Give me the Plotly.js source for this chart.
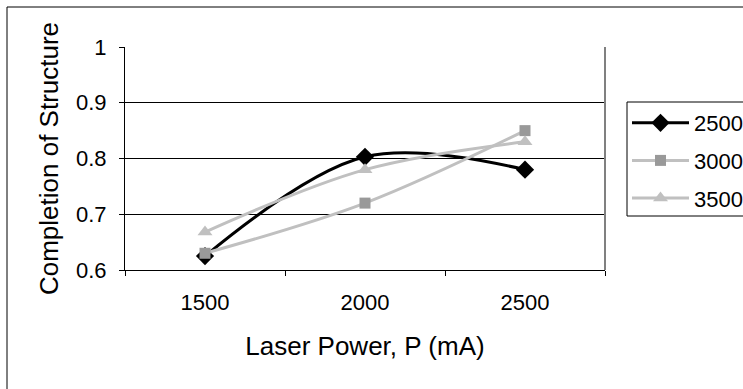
<!DOCTYPE html>
<html>
<head>
<meta charset="utf-8">
<script src="https://cdn.plot.ly/plotly-3.0.1.min.js"></script>
<style>
  html, body { margin: 0; padding: 0; background: #fff; }
  #chart { width: 743px; height: 389px; }
</style>
</head>
<body>
<div id="chart"></div>
<script>
// Data
var categories = ['1500', '2000', '2500'];
var seriesNames = ['2500', '3000', '3500'];
var values2500 = [0.625, 0.803, 0.780];
var values3000 = [0.630, 0.720, 0.850];
var values3500 = [0.668, 0.780, 0.830];
var yTickVals = [0.6, 0.7, 0.8, 0.9, 1];
var yTickText = ['0.6', '0.7', '0.8', '0.9', '1'];

var FONT = 'Liberation Sans, Arial, sans-serif';

function mk(name, vals, lineColor, markerColor, symbol, msize, group) {
  return {
    type: 'scatter', mode: 'lines+markers', name: name,
    x: categories, y: vals, legendgroup: group,
    line: { color: lineColor, width: 3, shape: 'spline', smoothing: 1 },
    marker: { color: markerColor, symbol: symbol, size: msize, line: { width: 0 } }
  };
}

var traces = [
  mk(seriesNames[0], values2500, '#000000', '#000000', 'diamond', 14, 'a'),
  mk(seriesNames[1], values3000, '#c0c0c0', '#999999', 'square', 11, 'b'),
  mk(seriesNames[2], values3500, '#c0c0c0', '#c0c0c0', 'triangle-up', 13, 'c')
];

var L = 125, R = 605, T = 47, B = 270, W = 743, H = 389;
function px(x) { return (x - L) / (R - L); }
function py(y) { return (B - y) / (B - T); }

var layout = {
  width: W, height: H,
  margin: { l: L, r: W - R, t: T, b: H - B, pad: 0, autoexpand: false },
  paper_bgcolor: '#ffffff', plot_bgcolor: '#ffffff',
  font: { family: FONT, size: 22, color: '#000000' },
  showlegend: true,
  legend: {
    x: px(627), y: py(102), xanchor: 'left', yanchor: 'top',
    bgcolor: 'rgba(0,0,0,0)', borderwidth: 0,
    font: { family: FONT, size: 22, color: '#000' },
    traceorder: 'grouped', tracegroupgap: 6, itemwidth: 57
  },
  xaxis: {
    type: 'category', categoryorder: 'array', categoryarray: categories,
    range: [-0.5, 2.5], fixedrange: true, automargin: false,
    showline: true, linecolor: '#000', linewidth: 1,
    ticks: 'outside', tickson: 'boundaries', ticklen: 5, tickcolor: '#000', tickwidth: 1,
    showgrid: false, zeroline: false,
    tickfont: { family: FONT, size: 22, color: '#000' },
    ticklabelstandoff: 13,
    title: { text: 'Laser Power, P (mA)', font: { family: FONT, size: 26, color: '#000' }, standoff: 22 }
  },
  yaxis: {
    range: [0.6, 1], fixedrange: true, automargin: false,
    tickvals: yTickVals, ticktext: yTickText,
    showline: true, linecolor: '#000', linewidth: 1,
    ticks: 'outside', ticklen: 5, tickcolor: '#000', tickwidth: 1,
    showgrid: true, gridcolor: '#000', gridwidth: 1, zeroline: false,
    tickfont: { family: FONT, size: 22, color: '#000' },
    ticklabelstandoff: 8,
    title: { text: 'Completion of Structure', font: { family: FONT, size: 26, color: '#000' }, standoff: 9 }
  },
  shapes: [
    { type: 'rect', xref: 'paper', yref: 'paper', x0: px(7), x1: px(800), y0: py(450), y1: py(7),
      line: { color: '#000', width: 1 }, fillcolor: 'rgba(0,0,0,0)' },
    { type: 'rect', xref: 'paper', yref: 'paper', x0: px(627), x1: px(800), y0: py(216), y1: py(102),
      line: { color: '#000', width: 1 }, fillcolor: 'rgba(0,0,0,0)' },
    { type: 'line', xref: 'paper', yref: 'paper', x0: 1, x1: 1, y0: 0, y1: 1,
      line: { color: '#808080', width: 2 } }
  ]
};

Plotly.newPlot('chart', traces, layout, { staticPlot: true, displayModeBar: false });
</script>
</body>
</html>
